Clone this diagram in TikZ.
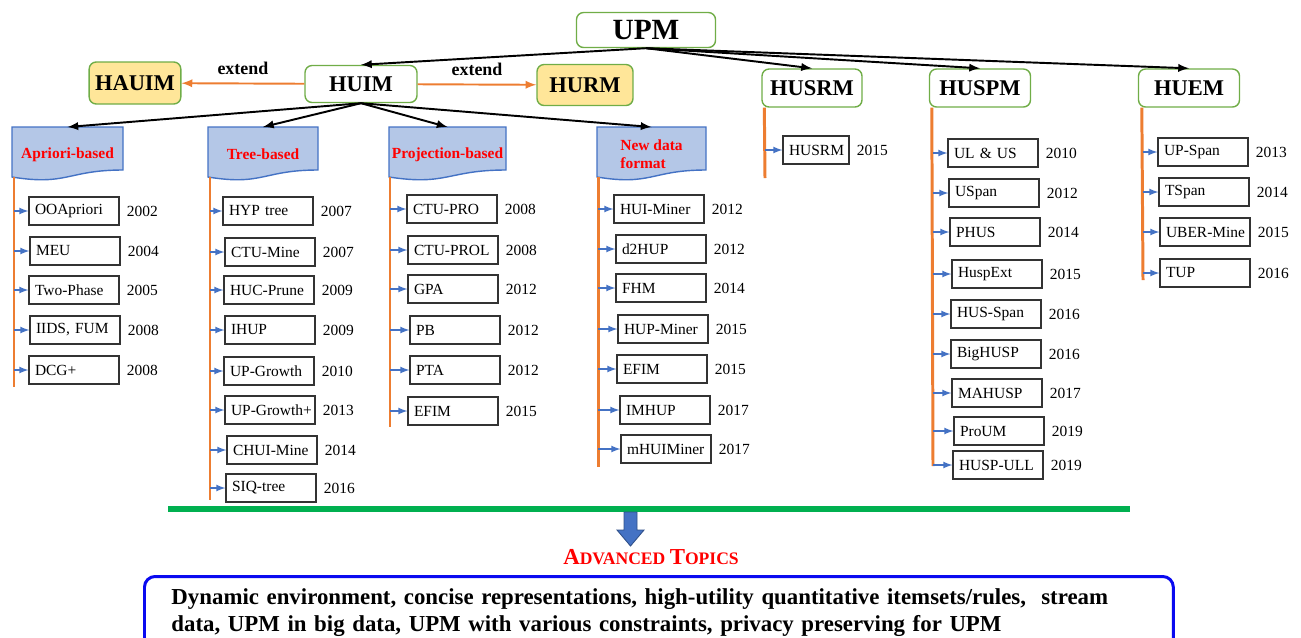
\documentclass[tikz,border=0pt]{standalone}
\usepackage{fontspec}
\setmainfont{Liberation Serif}
\usetikzlibrary{arrows,positioning,calc}

\definecolor{boxgreen}{HTML}{70AD47}
\definecolor{hlyellow}{HTML}{FFE699}
\definecolor{docblue}{HTML}{B4C7E7}
\definecolor{docedge}{HTML}{4472C4}
\definecolor{lineorange}{HTML}{ED7D31}
\definecolor{barGreen}{HTML}{00B050}
\definecolor{topicblue}{HTML}{0A0AF0}

\tikzset{
	topbox/.style={draw=boxgreen, line width=0.8pt, rounded corners=4pt, fill=white, font=\bfseries\fontsize{12.8}{14}\selectfont, minimum height=0.76cm},
	extbox/.style={topbox, fill=hlyellow},
	doclbl/.style={font=\bfseries\fontsize{8.8}{10}\selectfont, text=red, align=left, minimum height=1.08cm, anchor=north},
	docline/.style={draw=docedge, fill=docblue, line width=0.8pt},
	algbox/.style={draw=black!80, line width=0.6pt, fill=white, text width=1.56cm, align=left, inner xsep=0.12cm, minimum height=0.56cm, font=\fontsize{8.8}{10}\selectfont},
	yearlbl/.style={inner sep=0pt, font=\fontsize{8.8}{10}\selectfont},
	timeline/.style={draw=lineorange, line width=1.7pt},
	stub/.style={-latex, draw=docedge, line width=0.8pt},
	spread/.style={-latex, line width=1.1pt},
	extend/.style={-latex, draw=lineorange, line width=1.1pt},
}

\begin{document}
\begin{tikzpicture}[x=0.02cm, y=-0.02cm]
		\newcommand\docshape[4]{ %% argument 1: name, argument 2: left edge, argument 3: right edge, argument 4: label
			\filldraw[docline] (#2,127) -- (#3,127) -- (#3,170) .. controls ({(#2+#3)/2},170) and ({(#2+#3)/2},186) .. (#2,177) -- cycle;
			\node[doclbl] (#1) at ({(#2+#3)/2},127) {#4};
		}
		\newcommand\algo[7][]{ %% argument 1: options, 2: name, 3: x of the line, 4: x of the box, 5: y, 6: label, 7: year
			\coordinate (#2-in) at (#3,#5);
			\node[algbox,#1] (#2) at (#4,#5) {\mbox{#6}};
			\node[yearlbl, right=4pt of #2] (#2-yr) {#7};
			\draw[stub] (#2-in) -- (#2);
		}
	
		\useasboundingbox (0,0) rectangle (1301,637);
		\clip (0,0) rectangle (1301,637);
	
		\node[topbox, minimum width=2.78cm, minimum height=0.7cm, font=\bfseries\fontsize{16.7}{18}\selectfont] (upm) at (646,30) {UPM};
		\node[topbox, minimum width=2.24cm, minimum height=0.74cm] (huim) at (361,84) {HUIM};
		\node[extbox, minimum width=1.82cm, minimum height=0.84cm] (hauim) at (135,83) {HAUIM};
		\node[extbox, minimum width=1.92cm, minimum height=0.82cm] (hurm) at (585,85) {HURM};
		\node[topbox, minimum width=2.0cm] (husrm) at (812,88) {HUSRM};
		\node[topbox, minimum width=2.02cm] (huspm) at (980,88) {HUSPM};
		\node[topbox, minimum width=2.02cm] (huem) at (1189,88) {HUEM};
	
		\draw[spread] (upm.south) -- (huim.north);
		\draw[spread] (upm.south) -- (husrm.north);
		\draw[spread] (upm.south) -- (huspm.north);
		\draw[spread] (upm.south) -- (huem.north);
		\draw[extend] (huim) -- node[above=1pt, font=\bfseries\fontsize{10.2}{12}\selectfont] {extend} (hauim);
		\draw[extend] (huim) -- node[above=1pt, font=\bfseries\fontsize{10.2}{12}\selectfont] {extend} (hurm);
	
		\docshape{apr}{12}{123}{Apriori-based}
		\docshape{tree}{208}{318}{Tree-based}
		\docshape{proj}{389}{506}{Projection-based}
		\docshape{newfmt}{597}{706}{New data\\format}
	
		\draw[spread] (huim.south) -- (apr.north);
		\draw[spread] (huim.south) -- (tree.north);
		\draw[spread] (huim.south) -- (proj.north);
		\draw[spread] (huim.south) -- (newfmt.north);
	
		\draw[timeline] (14,177) -- (14,387);
		\draw[timeline] (210,177) -- (210,500);
		\draw[timeline] (390,177) -- (390,427);
		\draw[timeline] (598,177) -- (598,467);
		\draw[timeline] ($(husrm.south west)+(3,0)$) -- (765,178);
		\draw[timeline] ($(huspm.south west)+(3,0)$) -- (933,466);
		\draw[timeline] ($(huem.south west)+(4,0)$) -- (1143,280);
	
		% Apriori-based
		\algo{ooapriori}{14}{74}{211}{OOApriori}{2002}
		\algo{meu}{14}{75}{251}{MEU}{2004}
		\algo{twophase}{14}{74}{290}{Two-Phase}{2005}
		\algo{iids}{14}{75}{330}{IIDS, FUM}{2008}
		\algo{dcg}{14}{74}{370}{DCG+}{2008}
		% Tree-based
		\algo{hyp}{210}{268}{211}{HYP tree}{2007}
		\algo{ctumine}{210}{270}{252}{CTU-Mine}{2007}
		\algo{hucprune}{210}{269}{290}{HUC-Prune}{2009}
		\algo{ihup}{210}{270}{330}{IHUP}{2009}
		\algo{upgrowth}{210}{269}{371}{UP-Growth}{2010}
		\algo{upgrowthp}{210}{270}{410}{UP-Growth+}{2013}
		\algo{chuimine}{210}{272}{450}{CHUI-Mine}{2014}
		\algo{siqtree}{210}{271}{488}{SIQ-tree}{2016}
		% Projection-based
		\algo{ctupro}{390}{452}{209}{CTU-PRO}{2008}
		\algo{ctuprol}{390}{453}{250}{CTU-PROL}{2008}
		\algo{gpa}{390}{453}{289}{GPA}{2012}
		\algo{pb}{390}{455}{330}{PB}{2012}
		\algo{pta}{390}{455}{370}{PTA}{2012}
		\algo{efimp}{390}{453}{411}{EFIM}{2015}
		% New data format
		\algo{huiminer}{598}{659}{209}{HUI-Miner}{2012}
		\algo{dtwohup}{598}{661}{249}{d2HUP}{2012}
		\algo{fhm}{598}{661}{288}{FHM}{2014}
		\algo{hupminer}{598}{663}{329}{HUP-Miner}{2015}
		\algo{efimn}{598}{662}{369}{EFIM}{2015}
		\algo{imhup}{598}{665}{410}{IMHUP}{2017}
		\algo{mhuiminer}{598}{666}{449}{mHUIMiner}{2017}
		% HUSRM
		\algo[text width=1.08cm]{husrmalg}{765}{816}{150}{HUSRM}{2015}
		% HUSPM
		\algo{ulus}{933}{993}{153}{UL \& US}{2010}
		\algo{uspan}{933}{994}{193}{USpan}{2012}
		\algo{phus}{933}{995}{232}{PHUS}{2014}
		\algo{huspext}{933}{997}{274}{HuspExt}{2015}
		\algo{husspan}{933}{996}{314}{HUS-Span}{2016}
		\algo{bighusp}{933}{996}{354}{BigHUSP}{2016}
		\algo{mahusp}{933}{997}{393}{MAHUSP}{2017}
		\algo{proum}{933}{999}{431}{ProUM}{2019}
		\algo{huspull}{933}{998}{465}{HUSP-ULL}{2019}
		% HUEM
		\algo{upspan}{1143}{1203}{152}{UP-Span}{2013}
		\algo{tspan}{1143}{1204}{192}{TSpan}{2014}
		\algo{ubermine}{1143}{1205}{232}{UBER-Mine}{2015}
		\algo{tup}{1143}{1205}{273}{TUP}{2016}
	
		\draw[draw=barGreen, line width=3.4pt] (168,509) -- (1130,509);
		\filldraw[fill=docedge, draw=docedge!70!black, line width=0.5pt] (624,512) -- (637,512) -- (637,530) -- (644,530) -- (630.5,546) -- (617,530) -- (624,530) -- cycle;
		\node[text=red, font=\bfseries\fontsize{10}{12}\selectfont] (advlbl) at (651,557) {{\fontsize{13}{14}\selectfont A}DVANCED {\fontsize{13}{14}\selectfont T}OPICS};
	
		\node[draw=topicblue, line width=1.7pt, rounded corners=6pt, anchor=north west, text width=19.5cm, align=left, inner xsep=0.54cm, inner ysep=0.2cm, minimum height=1.44cm, font=\bfseries\fontsize{13}{15.4}\selectfont] (topics) at (143,575) {Dynamic environment, concise representations, high-utility quantitative itemsets/rules, \ stream\\data, UPM in big data, UPM with various constraints, privacy preserving for UPM};
	\end{tikzpicture}
\end{document}
